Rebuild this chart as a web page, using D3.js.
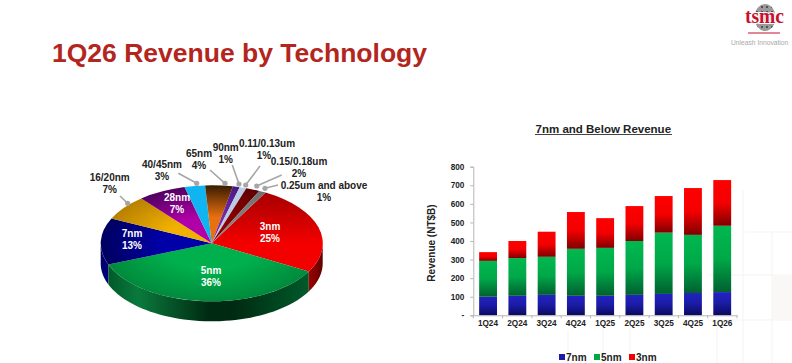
<!DOCTYPE html>
<html><head><meta charset="utf-8">
<script src="https://cdn.jsdelivr.net/npm/d3@7"></script>
<style>html,body{margin:0;padding:0;background:#fff}svg{display:block}text{font-family:"Liberation Sans",Arial,sans-serif}</style>
</head><body><svg id="c" width="792" height="363"></svg>
<script>
const pieNames=["3nm","5nm","7nm","16/20nm","28nm","40/45nm","65nm","90nm","0.11/0.13um","0.15/0.18um","0.25um and above"];
const pieShares=[25,36,13,7,7,3,4,1,1,2,1];
const pieLight=["#f20000","#00b04c","#0000a8","#f0b000","#b000a8","#10b4f0","#e87010","#7a2aa8","#b8cce8","#8a0000","#808080"];
const pieDark=["#a00000","#008a3c","#000060","#b88000","#500060","#10b4f0","#3a1c00","#4a1880","#b8cce8","#600000","#707070"];
const quarters=["1Q24","2Q24","3Q24","4Q24","1Q25","2Q25","3Q25","4Q25","1Q26"];
const rev7=[100,105,110,105,105,110,115,120,125];
const rev5=[193,203,205,253,258,290,330,313,357];
const rev3=[47,92,135,198,160,188,197,252,246];
const yTicks=[0,100,200,300,400,500,600,700,800];

const svg=d3.select("#c");
const defs=svg.append("defs");
function lg(id,stops,x2=0,y2=1){const g=defs.append("linearGradient").attr("id",id).attr("x1",0).attr("y1",0).attr("x2",x2).attr("y2",y2);
 stops.forEach(s=>g.append("stop").attr("offset",s[0]).attr("stop-color",s[1]));}
lg("g7",[[0,"#2222c0"],[.45,"#1c1ca8"],[1,"#0a0a60"]]);
lg("g5",[[0,"#00b850"],[.5,"#00a848"],[1,"#006030"]]);
lg("g3",[[0,"#ff0000"],[.5,"#f40000"],[1,"#800000"]]);

// faint background grid
const bg=svg.append("g").attr("stroke","#f4f3f2").attr("stroke-width",1);
[[568,330,568,363],[603,320,603,363],[630,320,630,363],[717,320,717,363],[743,190,743,363],[772,232,772,363],[745,232,792,232],[708,275,792,275],[708,320,792,320]].forEach(l=>
 bg.append("line").attr("x1",l[0]).attr("y1",l[1]).attr("x2",l[2]).attr("y2",l[3]));
svg.append("rect").attr("x",773).attr("y",276).attr("width",19).attr("height",44).attr("fill","#f9f8f6");

// Title
svg.append("text").attr("x",52).attr("y",62).attr("font-size",26.5).attr("font-weight","bold").attr("fill","#b3261e").text("1Q26 Revenue by Technology");

// Logo
const logo=svg.append("g");
defs.append("pattern").attr("id","dots").attr("patternUnits","userSpaceOnUse").attr("width",5).attr("height",5)
 .call(p=>{p.append("rect").attr("width",5).attr("height",5).attr("fill","#9a9a9a");p.append("circle").attr("cx",2).attr("cy",2).attr("r",1).attr("fill","#3a3a3a");});
logo.append("ellipse").attr("cx",765).attr("cy",17.5).attr("rx",10.5).attr("ry",13.5).attr("fill","url(#dots)");
logo.append("text").attr("x",764.5).attr("y",22.5).attr("text-anchor","middle").attr("font-size",20).attr("font-weight","bold").attr("fill","#c8102e").attr("stroke","#fff").attr("stroke-width",2.2).attr("paint-order","stroke").attr("style",'font-family:"Liberation Serif",serif').attr("textLength",39).attr("lengthAdjust","spacingAndGlyphs").text("tsmc");
logo.append("rect").attr("x",748).attr("y",32.5).attr("width",32).attr("height",1).attr("fill","#c8102e");
logo.append("text").attr("x",731).attr("y",45).attr("font-size",6.7).attr("fill","#a8a8a8").text("Unleash Innovation");

// Pie
const cx=211.7,cy=243.3,rx=111,ry=58,depth=20;
const deg=Math.PI/180;
const arcs=d3.pie().sort(null).value(d=>d).startAngle(29*deg).endAngle(389*deg)(pieShares);
const arc=d3.arc().innerRadius(0).outerRadius(1);
const px=a=>cx+rx*Math.sin(a),py=a=>cy-ry*Math.cos(a);
lg("wallGreen",[[0,"#005a2a"],[.15,"#0a7a3c"],[.5,"#002a12"],[.62,"#002a12"],[1,"#005a2a"]],1,0);
lg("wallRed",[[0,"#a00000"],[1,"#600000"]],1,0);
lg("wallBlue",[[0,"#000060"],[1,"#000080"]],0,1);
const wallFill=["url(#wallRed)","url(#wallGreen)","url(#wallBlue)"];
[0,2,1].forEach(i=>{const a0=Math.max(arcs[i].startAngle,90*deg),a1=Math.min(arcs[i].endAngle,270*deg);
 if(a1<=a0)return;
 const p=d3.path();const n=48;
 d3.range(n+1).forEach(k=>{const a=a0+(a1-a0)*k/n;k?p.lineTo(px(a),py(a)):p.moveTo(px(a),py(a));});
 d3.range(n+1).forEach(k=>{const a=a1-(a1-a0)*k/n;p.lineTo(px(a),py(a)+depth);});
 p.closePath();
 svg.append("path").attr("d",p.toString()).attr("fill",wallFill[i]);});
arcs.forEach((d,i)=>{
 if(i===0){
  const g=defs.append("linearGradient").attr("id","s0").attr("gradientUnits","userSpaceOnUse").attr("x1",0).attr("y1",-1).attr("x2",0).attr("y2",1);
  [[0,"#a00000"],[.22,"#c00000"],[.5,"#f40000"],[1,"#f00000"]].forEach(s=>g.append("stop").attr("offset",s[0]).attr("stop-color",s[1]));
  return;}
 const g=defs.append("radialGradient").attr("id","s"+i).attr("gradientUnits","userSpaceOnUse").attr("cx",0).attr("cy",0).attr("r",1).attr("fx",0).attr("fy",0);
 g.append("stop").attr("offset",.45).attr("stop-color",pieLight[i]);
 g.append("stop").attr("offset",1).attr("stop-color",pieDark[i]);
});
const face=svg.append("g").attr("transform",`translate(${cx},${cy}) scale(${rx},${ry})`);
face.selectAll("path").data(arcs).join("path").attr("d",arc).attr("fill",(d,i)=>`url(#s${i})`);

// leader lines
const targets=[[120,196,127.7,203.3],[178.3,173.3,196.7,183.3],[210,170,225,183.3],[232.3,165,239,184],[260,166,245.7,185],[281.7,175,256.7,186],[278,185,265,188.3]];
targets.forEach(t=>{
 svg.append("line").attr("x1",t[0]).attr("y1",t[1]).attr("x2",t[2]).attr("y2",t[3]).attr("stroke","#a6a6a6").attr("stroke-width",1.6);
 svg.append("circle").attr("cx",t[2]).attr("cy",t[3]).attr("r",2.6).attr("fill","#a6a6a6");
});
// pie labels
const pieLabels=[[0,270,230,"#fff",0],[1,211,273.5,"#fff",0],[2,132,237,"#fff",0],[3,109.7,181,"#222",0],[4,177,201,"#fff",0],[5,162,168,"#222",0],[6,199,156.5,"#222",0],[7,225.7,150.5,"#222",0],[8,267,146.5,"#222",-3],[9,299,164.5,"#222",0],[10,324,189,"#222",0]];
pieLabels.forEach(l=>{
 const t=svg.append("text").attr("text-anchor","middle").attr("font-size",10).attr("font-weight","bold").attr("fill",l[3]);
 t.append("tspan").attr("x",l[1]).attr("y",l[2]).text(pieNames[l[0]]);
 t.append("tspan").attr("x",l[1]+l[4]).attr("y",l[2]+12).text(pieShares[l[0]]+"%");
});

// Bars
const x=d3.scaleBand().domain(quarters).range([473.3,737]).paddingInner(.39).paddingOuter(.2);
const y=d3.scaleLinear().domain([0,800]).range([315.3,166.7]);
const table=quarters.map((q,i)=>({q,a:rev7[i],b:rev5[i],c:rev3[i]}));
const series=d3.stack().keys(["a","b","c"])(table);
const fills=["url(#g7)","url(#g5)","url(#g3)"];
series.forEach((s,i)=>{svg.append("g").selectAll("rect").data(s).join("rect")
 .attr("x",d=>x(d.data.q)).attr("width",x.bandwidth()).attr("y",d=>y(d[1])).attr("height",d=>y(d[0])-y(d[1])).attr("fill",fills[i]);});

const yAxis=d3.axisLeft(y).tickValues(yTicks).tickSize(3).tickPadding(6).tickFormat(d=>d===0?"-":d);
const ya=svg.append("g").attr("transform","translate(473.3,0)").call(yAxis);
const xb=d3.scaleBand().domain(quarters).range([473.3,737]);
const xa=svg.append("g").attr("transform","translate(0,315.3)").call(d3.axisBottom(xb).tickSize(0).tickPadding(5));
[ya,xa].forEach(g=>{g.selectAll("path,line").attr("stroke","#b5b5b5");
 g.selectAll("text").attr("font-size",8.2).attr("font-weight","bold").attr("fill","#222").attr("style",'font-family:"Liberation Sans",sans-serif');});
svg.append("g").selectAll("line").data(d3.range(10)).join("line")
 .attr("x1",i=>473.3+i*(737-473.3)/9).attr("x2",i=>473.3+i*(737-473.3)/9).attr("y1",315.3).attr("y2",318.3).attr("stroke","#b5b5b5");

svg.append("text").attr("transform","translate(435,243) rotate(-90)").attr("text-anchor","middle").attr("font-size",10).attr("font-weight","bold").attr("fill","#222").text("Revenue (NT$B)");
svg.append("text").attr("x",603.3).attr("y",132.5).attr("text-anchor","middle").attr("font-size",11.5).attr("font-weight","bold").attr("fill","#222").text("7nm and Below Revenue");
svg.append("rect").attr("x",535).attr("y",134).attr("width",137).attr("height",1).attr("fill","#444");

// Legend
const legendNames=["7nm","5nm","3nm"],legendColors=["#1c1ca8","#00a848","#f00000"],legendX=[559,594,629];
legendNames.forEach((n,i)=>{
 svg.append("rect").attr("x",legendX[i]).attr("y",354).attr("width",6).attr("height",6).attr("fill",legendColors[i]);
 svg.append("text").attr("x",legendX[i]+7).attr("y",360.5).attr("font-size",10).attr("font-weight","bold").attr("fill","#222").text(n);
});
</script></body></html>
